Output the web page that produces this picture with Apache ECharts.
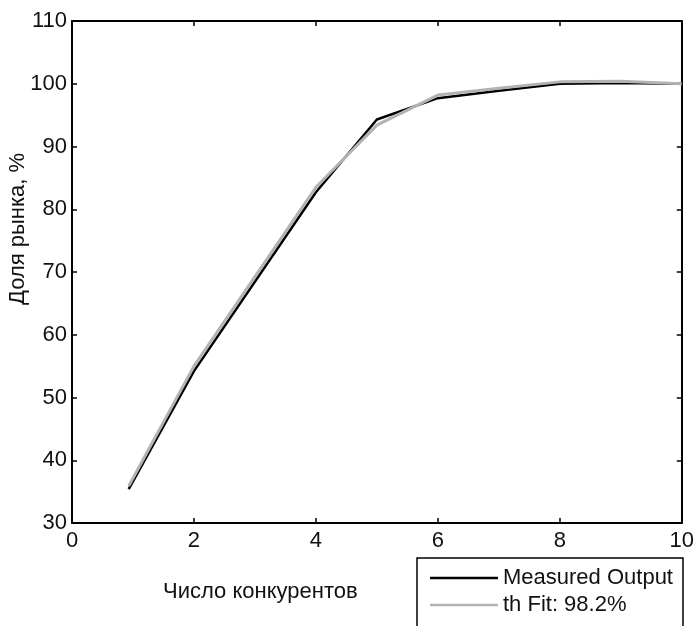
<!DOCTYPE html>
<html>
<head>
<meta charset="utf-8">
<script src="https://cdn.jsdelivr.net/npm/echarts@6/dist/echarts.min.js"></script>
<style>
  html, body { margin: 0; padding: 0; background: #fff; }
  #chart { width: 697px; height: 626px; }
</style>
</head>
<body>
<div id="chart"></div>
<script>
const xValues = [0.93, 2, 4, 5, 6, 7, 8, 9, 10]
const measured = [35.4, 54.2, 82.7, 94.3, 97.7, 98.9, 100.0, 100.1, 100.0]
const fitted = [35.9, 55.0, 83.5, 93.4, 98.2, 99.3, 100.3, 100.4, 100.0]
const seriesNames = ['Measured Output', 'th Fit: 98.2%']
const xTitle = 'Число конкурентов'
const yTitle = 'Доля рынка, %'

const font = 'Liberation Sans, Arial, sans-serif'
const chart = echarts.init(document.getElementById('chart'))

const axisCommon = {
  axisLine: { show: true, onZero: false, lineStyle: { color: '#000', width: 2 } },
  axisTick: { show: true, inside: true, length: 5, lineStyle: { color: '#000', width: 1.5 } },
  splitLine: { show: false }
}

// one legend per row, the box around them is a plain rect
const legendRow = (name, top) => ({
  left: 430,
  top: top,
  padding: 0,
  icon: 'rect',
  itemWidth: 68,
  itemHeight: 2.5,
  textStyle: { color: '#111', fontFamily: font, fontSize: 22 },
  data: [name]
})

chart.setOption({
  animation: false,
  grid: { left: 72, right: 15, top: 21, bottom: 103 },
  xAxis: [
    Object.assign({ type: 'value', min: 0, max: 10, interval: 2, position: 'bottom',
      axisLabel: { color: '#111', fontFamily: font, fontSize: 22, margin: 7 } }, axisCommon),
    Object.assign({ type: 'value', min: 0, max: 10, interval: 2, position: 'top',
      axisLabel: { show: false } }, axisCommon)
  ],
  yAxis: [
    Object.assign({ type: 'value', min: 30, max: 110, interval: 10, position: 'left',
      axisLabel: { color: '#111', fontFamily: font, fontSize: 22, margin: 5 } }, axisCommon),
    Object.assign({ type: 'value', min: 30, max: 110, interval: 10, position: 'right',
      axisLabel: { show: false } }, axisCommon)
  ],
  legend: [legendRow(seriesNames[0], 567), legendRow(seriesNames[1], 594)],
  graphic: [
    { type: 'rect', shape: { x: 417, y: 558, width: 266, height: 90 },
      style: { fill: 'none', stroke: '#000', lineWidth: 1.5 } },
    { type: 'text', left: 163, top: 581,
      style: { text: xTitle, fill: '#111', font: '22px ' + font } },
    { type: 'text', x: 7, y: 305, rotation: Math.PI / 2,
      style: { text: yTitle, fill: '#111', font: '22px ' + font } }
  ],
  series: [
    {
      name: seriesNames[0], type: 'line', symbol: 'none',
      data: xValues.map((x, i) => [x, measured[i]]),
      lineStyle: { color: '#000', width: 2.5 }, itemStyle: { color: '#000' }
    },
    {
      name: seriesNames[1], type: 'line', symbol: 'none',
      data: xValues.map((x, i) => [x, fitted[i]]),
      lineStyle: { color: '#b3b3b3', width: 3 }, itemStyle: { color: '#b3b3b3' }
    }
  ]
})
</script>
</body>
</html>
